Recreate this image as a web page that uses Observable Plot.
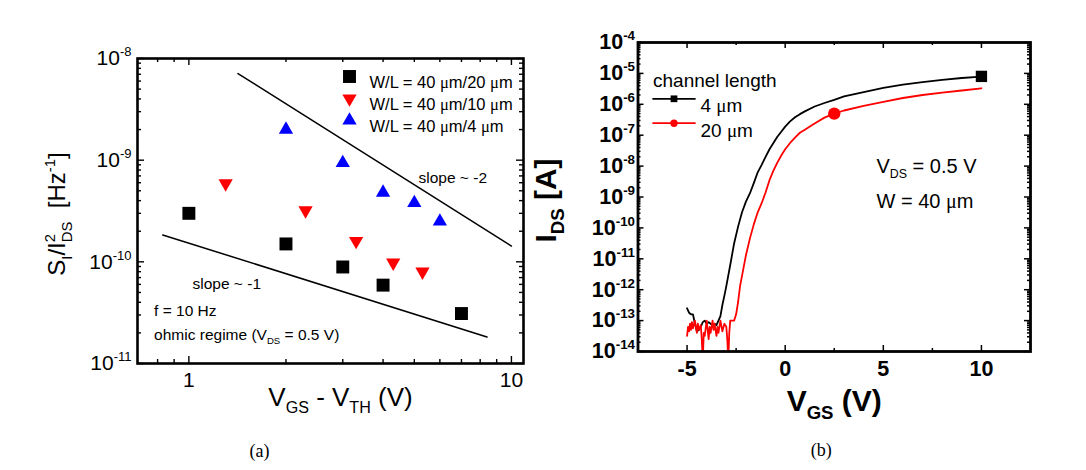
<!DOCTYPE html>
<html><head><meta charset="utf-8">
<script src="https://cdn.jsdelivr.net/npm/d3@7"></script>
<script src="https://cdn.jsdelivr.net/npm/@observablehq/plot@0.6"></script>
<style>
html,body{margin:0;padding:0;background:#fff;}
#wrap{display:flex;width:1086px;height:470px;overflow:hidden;}
</style></head><body><div id="wrap"></div>
<script>
// ---------- Panel (a): normalized noise vs overdrive ----------
const seriesA = ["W/L = 40 μm/20 μm", "W/L = 40 μm/10 μm", "W/L = 40 μm/4 μm"];
const vovL20 = [1, 2, 3, 4, 7];
const noiseL20 = [3.0e-10, 1.5e-10, 8.9e-11, 5.9e-11, 3.1e-11];
const vovL10 = [1.3, 2.3, 3.3, 4.3, 5.3];
const noiseL10 = [5.9e-10, 3.2e-10, 1.6e-10, 9.8e-11, 8.0e-11];
const vovL4 = [2, 3, 4, 5, 6];
const noiseL4 = [2.0e-9, 9.4e-10, 4.8e-10, 3.8e-10, 2.5e-10];
const slope2X = [1.42, 10];
const slope2Y = [7.1e-9, 1.43e-10];
const slope1X = [0.83, 8.4];
const slope1Y = [1.84e-10, 1.82e-11];
const xTicksA = [1, 10];
const xMinorA = [0.8, 0.9, 2, 3, 4, 5, 6, 7, 8, 9];
const yTicksA = [1e-11, 1e-10, 1e-9, 1e-8];

// ---------- Panel (b): transfer curves ----------
const seriesB = ["4 μm", "20 μm"];
const vgsL4 = [-5.0,-4.9,-4.8,-4.7,-4.6,-4.5,-4.4,-4.3,-4.2,-4.1,-4.0,-3.9,-3.8,-3.7,-3.6,-3.5,-3.4,-3.3,-3.2,-3.1,-3.0,
  -2.8,-2.6,-2.4,-2.2,-2.0,-1.8,-1.6,-1.4,-1.2,-1.0,-0.8,-0.6,-0.4,-0.2,0,0.25,0.5,0.75,1,1.5,2,2.5,3,4,5,6,7,8,9,10];
const idsL4 = [2.5e-13,1.8e-13,1.6e-13,1.6e-13,7.9e-14,4.5e-14,5.0e-14,6.3e-14,8.9e-14,1.0e-13,7.9e-14,8.9e-14,7.9e-14,7.1e-14,7.9e-14,7.1e-14,1.0e-13,1.4e-13,3.2e-13,6.3e-13,1.3e-12,
  6.3e-12,3.2e-11,1.1e-10,3.2e-10,7.1e-10,1.3e-9,2.8e-9,6.3e-9,1.1e-8,2.0e-8,3.5e-8,5.6e-8,8.9e-8,1.3e-7,
  1.9e-7,2.8e-7,3.8e-7,4.8e-7,5.9e-7,8.5e-7,1.1e-6,1.4e-6,1.8e-6,2.5e-6,3.4e-6,4.3e-6,5.2e-6,6.2e-6,7.1e-6,7.9e-6];
const vgsL20 = [-5.0,-4.95,-4.9,-4.85,-4.8,-4.75,-4.7,-4.6,-4.5,-4.45,-4.4,-4.3,-4.25,-4.2,-4.15,-4.1,-4.0,-3.95,-3.9,-3.85,-3.8,-3.7,-3.65,-3.6,-3.5,-3.45,-3.4,-3.3,-3.2,-3.1,-3.0,-2.95,-2.9,-2.85,-2.8,-2.7,-2.6,-2.5,-2.4,-2.3,-2.2,
  -2.0,-1.8,-1.6,-1.4,-1.2,-1.0,-0.8,-0.6,-0.4,-0.2,0,0.25,0.5,0.75,1,1.5,2,2.5,3,4,5,6,7,8,9,10];
const idsL20 = [3.2e-14,6.3e-14,4.5e-14,7.9e-14,5.0e-14,8.9e-14,5.6e-14,1.0e-13,4.0e-14,7.9e-14,5.0e-14,7.1e-14,2.5e-14,5.0e-15,4.0e-14,3.2e-14,1.0e-13,5.0e-14,2.5e-14,6.3e-14,4.0e-14,1.0e-13,5.0e-14,7.9e-14,3.2e-14,6.3e-14,4.0e-14,1.0e-13,4.5e-14,7.9e-14,6.3e-14,2.5e-14,5.0e-15,4.0e-14,1.0e-13,1.0e-13,1.0e-13,1.6e-13,4.0e-13,1.3e-12,2.8e-12,
  1.3e-11,4.5e-11,1.3e-10,3.2e-10,6.3e-10,1.4e-9,3.5e-9,7.1e-9,1.3e-8,2.2e-8,3.5e-8,5.6e-8,8.3e-8,1.2e-7,1.5e-7,2.4e-7,3.7e-7,5.0e-7,6.3e-7,8.9e-7,1.2e-6,1.6e-6,2.0e-6,2.4e-6,2.8e-6,3.3e-6];
const markerL4 = {x: [10], y: [8.0e-6]};
const markerL20 = {x: [2.5], y: [5.0e-7]};
const xTicksB = [-5, 0, 5, 10];
const xMinorB = [-2.5, 2.5, 7.5];
const yTicksB = [1e-14,1e-13,1e-12,1e-11,1e-10,1e-9,1e-8,1e-7,1e-6,1e-5,1e-4];

// ---------- helpers ----------
const zip = (xs, ys) => xs.map((x, i) => ({x, y: ys[i]}));
const logMinors = (e0, e1) => { const out = []; for (let e = e0; e < e1; e++) for (let m = 2; m <= 9; m++) out.push(m * 10 ** e); return out; };
const powLabel = d => `10^{${Math.round(Math.log10(d))}}`;
const FONT = "'Liberation Sans', Arial, Helvetica, sans-serif";
const SERIF = "'Liberation Serif', 'Times New Roman', serif";
const triDown = {draw(ctx, size) { const y = Math.sqrt(size / (3 * Math.sqrt(3))); ctx.moveTo(0, 2 * y); ctx.lineTo(-Math.sqrt(3) * y, -y); ctx.lineTo(Math.sqrt(3) * y, -y); ctx.closePath(); }};
const hline = half => ({draw(ctx) { ctx.moveTo(-half, 0); ctx.lineTo(half, 0); }});

function frameTicks(xs, ys, innerW, innerH, {xMaj, xMin, yMaj, yMin}, sw) {
  const m = [];
  for (const [vals, len] of [[xs[0], xMaj], [xs[1], xMin]]) {
    m.push(Plot.tickX(vals, {x: d => d, insetTop: innerH - len, stroke: "black", strokeWidth: sw}));
    m.push(Plot.tickX(vals, {x: d => d, insetBottom: innerH - len, stroke: "black", strokeWidth: sw}));
  }
  for (const [vals, len] of [[ys[0], yMaj], [ys[1], yMin]]) {
    m.push(Plot.tickY(vals, {y: d => d, insetRight: innerW - len, stroke: "black", strokeWidth: sw}));
    m.push(Plot.tickY(vals, {y: d => d, insetLeft: innerW - len, stroke: "black", strokeWidth: sw}));
  }
  return m;
}

// ---------- panel (a) ----------
const wA = 530, hA = 470, mlA = 137, mrA = 7, mtA = 58, mbA = 107;
const symbolsA = ["square", triDown, "triangle"];
const colorsA = ["black", "red", "blue"];
const radiiA = [7.3, 5.3, 5.3];
const dataA = [zip(vovL20, noiseL20), zip(vovL10, noiseL10), zip(vovL4, noiseL4)];

const plotA = Plot.plot({
  width: wA, height: hA,
  marginLeft: mlA, marginRight: mrA, marginTop: mtA, marginBottom: mbA,
  x: {type: "log", domain: [0.693, 10.9], label: null},
  y: {type: "log", domain: [1e-11, 1e-8], label: null},
  style: {fontFamily: FONT, background: "white", color: "black"},
  marks: [
    ...frameTicks([xTicksA, xMinorA], [yTicksA, logMinors(-11, -8)], wA - mlA - mrA, hA - mtA - mbA, {xMaj: 7, xMin: 4, yMaj: 7, yMin: 4}, 1.4),
    Plot.line(zip(slope2X, slope2Y), {x: "x", y: "y", stroke: "black", strokeWidth: 1.5}),
    Plot.line(zip(slope1X, slope1Y), {x: "x", y: "y", stroke: "black", strokeWidth: 1.5}),
    ...dataA.map((d, i) => Plot.dot(d, {x: "x", y: "y", symbol: symbolsA[i], fill: colorsA[i], stroke: "none", r: radiiA[i]})),
    ...seriesA.map((s, i) => Plot.dot([s], {frameAnchor: "top-left", dx: 212, dy: 18 + 22 * i, symbol: symbolsA[i], fill: colorsA[i], stroke: "none", r: radiiA[i]})),
    ...seriesA.map((s, i) => Plot.text([s], {frameAnchor: "top-left", dx: 232, dy: 18 + 22 * i, textAnchor: "start", fontSize: 16.5, fill: "black"})),
    Plot.text(["slope ~ -2"], {frameAnchor: "top-left", dx: 281, dy: 113, textAnchor: "start", fontSize: 15.5}),
    Plot.text(["slope ~ -1"], {frameAnchor: "top-left", dx: 55, dy: 219, textAnchor: "start", fontSize: 15.5}),
    Plot.text(["f = 10 Hz"], {frameAnchor: "bottom-left", dx: 16.6, dy: -48, textAnchor: "start", fontSize: 15.5}),
    Plot.text(["ohmic regime (V_{DS} = 0.5 V)"], {frameAnchor: "bottom-left", dx: 16.6, dy: -24, textAnchor: "start", fontSize: 15.5}),
    Plot.axisX({ticks: xTicksA, anchor: "bottom", tickSize: 0, tickPadding: 9, tickFormat: d => String(d), fontSize: 21, label: null}),
    Plot.axisY({ticks: yTicksA, anchor: "left", tickSize: 0, tickPadding: 6, tickFormat: powLabel, fontSize: 21, label: null}),
    Plot.text(["V_{GS} - V_{TH} (V)"], {frameAnchor: "bottom", textAnchor: "middle", dx: 10, dy: 42, fontSize: 26}),
    Plot.text(["S_{I}/I^{2}_{DS}\u00a0\u00a0[Hz^{-1}]"], {frameAnchor: "left", textAnchor: "middle", rotate: -90, dx: -80, dy: 3, fontSize: 24}),
    Plot.text(["(a)"], {frameAnchor: "bottom", textAnchor: "middle", dx: -71, dy: 93, fontSize: 18, fontFamily: SERIF}),
    Plot.frame({stroke: "black", strokeWidth: 2.6})
  ]
});

// ---------- panel (b) ----------
const wB = 556, hB = 470, mlB = 107.5, mrB = 56, mtB = 42, mbB = 119;
const colorsB = ["black", "red"];
const plotB = Plot.plot({
  width: wB, height: hB,
  marginLeft: mlB, marginRight: mrB, marginTop: mtB, marginBottom: mbB,
  x: {domain: [-7.5, 12.5], label: null},
  y: {type: "log", domain: [1e-14, 1e-4], label: null},
  style: {fontFamily: FONT, background: "white", color: "black"},
  marks: [
    ...frameTicks([xTicksB, xMinorB], [yTicksB, logMinors(-14, -4)], wB - mlB - mrB, hB - mtB - mbB, {xMaj: 6, xMin: 3, yMaj: 6, yMin: 3}, 1.5),
    Plot.line(zip(vgsL4, idsL4), {x: "x", y: "y", stroke: colorsB[0], strokeWidth: 1.8, clip: true}),
    Plot.line(zip(vgsL20, idsL20), {x: "x", y: "y", stroke: colorsB[1], strokeWidth: 1.8, clip: true}),
    Plot.dot(zip(markerL4.x, markerL4.y), {x: "x", y: "y", symbol: "square", fill: "black", stroke: "none", r: 6.4}),
    Plot.dot(zip(markerL20.x, markerL20.y), {x: "x", y: "y", symbol: "circle", fill: "red", stroke: "none", r: 6.2}),
    Plot.text(["channel length"], {frameAnchor: "top-left", dx: 15, dy: 31, textAnchor: "start", fontSize: 19}),
    ...seriesB.map((s, i) => Plot.dot([s], {frameAnchor: "top-left", dx: 36, dy: 56.3 + 24.4 * i, symbol: hline(21.6), stroke: colorsB[i], fill: "none", strokeWidth: 1.8})),
    ...seriesB.map((s, i) => Plot.dot([s], {frameAnchor: "top-left", dx: 36, dy: 56.3 + 24.4 * i, symbol: i ? "circle" : "square", fill: colorsB[i], stroke: "none", r: i ? 3.7 : 3.8})),
    ...seriesB.map((s, i) => Plot.text([s], {frameAnchor: "top-left", dx: 62.5, dy: 56.3 + 24.4 * i, textAnchor: "start", fontSize: 19})),
    Plot.text(["V_{DS} = 0.5 V"], {frameAnchor: "top-left", dx: 238.5, dy: 116, textAnchor: "start", fontSize: 20}),
    Plot.text(["W = 40 μm"], {frameAnchor: "top-left", dx: 238.5, dy: 151, textAnchor: "start", fontSize: 20}),
    Plot.axisX({ticks: xTicksB, anchor: "bottom", tickSize: 0, tickPadding: 9, tickFormat: d => String(d), fontSize: 21.5, fontWeight: "bold", label: null}),
    Plot.axisY({ticks: yTicksB, anchor: "left", tickSize: 0, tickPadding: 3, tickFormat: powLabel, fontSize: 21.5, fontWeight: "bold", label: null}),
    Plot.text(["V_{GS} (V)"], {frameAnchor: "bottom", textAnchor: "middle", dy: 59, fontSize: 30, fontWeight: "bold"}),
    Plot.text(["I_{DS} [A]"], {frameAnchor: "left", textAnchor: "middle", rotate: -90, dx: -92, dy: 3.5, fontSize: 30, fontWeight: "bold"}),
    Plot.text(["(b)"], {frameAnchor: "bottom", textAnchor: "middle", dx: -13, dy: 104, fontSize: 18, fontFamily: SERIF}),
    Plot.frame({stroke: "black", strokeWidth: 2.8})
  ]
});

const wrap = document.getElementById("wrap");
wrap.appendChild(plotA);
wrap.appendChild(plotB);

// ---------- rich text: sub/superscripts written as _{..} and ^{..} ----------
const NS = "http://www.w3.org/2000/svg";
function richify(root) {
  root.querySelectorAll("text").forEach(t => {
    const leaves = t.querySelector("tspan") ? [...t.querySelectorAll("tspan")] : [t];
    leaves.forEach(el => {
      const s = el.textContent;
      if (!/[_^]\{|μ/.test(s)) return;
      const fs = parseFloat(getComputedStyle(el).fontSize) || 16;
      const parts = s.split(/(_\{[^}]*\}|\^\{[^}]*\})/).filter(p => p !== "");
      el.textContent = "";
      let shift = 0, prevSup = null;
      for (const p of parts) {
        let kind = "n", txt = p;
        if (p.startsWith("_{")) { kind = "sub"; txt = p.slice(2, -1); }
        else if (p.startsWith("^{")) { kind = "sup"; txt = p.slice(2, -1); }
        const target = kind === "sup" ? -0.42 * fs : kind === "sub" ? 0.27 * fs : 0;
        const pieces = txt.split(/(μ)/).filter(q => q !== "");
        let first = true, lastSpan = null;
        for (const q of pieces) {
          const ts = document.createElementNS(NS, "tspan");
          ts.textContent = q;
          if (kind !== "n") ts.setAttribute("font-size", (0.62 * fs).toFixed(2));
          if (q === "μ") ts.setAttribute("font-family", SERIF);
          if (first) {
            if (target !== shift) ts.setAttribute("dy", (target - shift).toFixed(2));
            if (kind === "sub" && prevSup) ts.setAttribute("dx", (-prevSup.getComputedTextLength()).toFixed(2));
          }
          el.appendChild(ts);
          first = false; lastSpan = ts;
        }
        shift = target;
        prevSup = kind === "sup" ? lastSpan : null;
      }
    });
  });
}
richify(plotA);
richify(plotB);
</script>
</body></html>
